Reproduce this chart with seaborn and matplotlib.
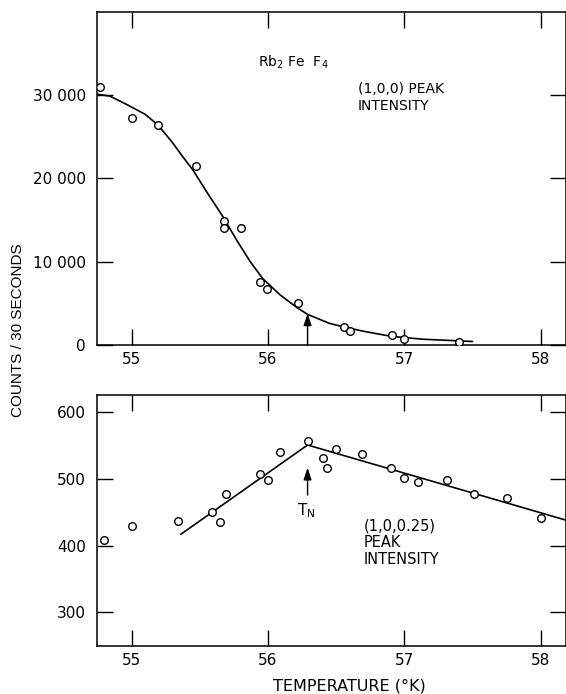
import numpy as np
import pandas as pd
import matplotlib
matplotlib.use("Agg")
import matplotlib.pyplot as plt
import seaborn as sns

# ---- data: (1,0,0) peak intensity (top panel) ----
top_T = [54.77, 55.00, 55.19, 55.47, 55.68, 55.68, 55.80, 55.94, 55.99, 56.22,
         56.56, 56.60, 56.91, 57.00, 57.40]
top_C = [31000, 27300, 26400, 21500, 14900, 14050, 14050, 7560, 6760, 5080,
         2120, 1680, 1160, 720, 400]

# smooth guide curve
curve_T = [54.755, 54.84, 54.975, 55.10, 55.195, 55.30, 55.38, 55.45, 55.55,
           55.67, 55.77, 55.87, 55.96, 56.09, 56.21, 56.29, 56.45, 56.56,
           56.70, 56.90, 57.13, 57.50]
curve_C = [30100, 29900, 28800, 27700, 26400, 24300, 22500, 21000, 18400,
           15400, 12600, 10000, 8000, 6000, 4520, 3680, 2600, 2150,
           1650, 1050, 700, 420]

# ---- data: (1,0,0.25) peak intensity (bottom panel) ----
bot_T = [54.80, 55.00, 55.34, 55.59, 55.65, 55.69, 55.94, 56.00, 56.09, 56.29,
         56.40, 56.43, 56.50, 56.69, 56.90, 57.00, 57.10, 57.31, 57.51, 57.75, 58.00]
bot_C = [408, 430, 437, 451, 436, 477, 507, 498, 541, 557,
         531, 517, 545, 538, 517, 501, 495, 498, 477, 471, 442]

line_T = [55.36, 56.29, 58.19]
line_C = [417, 551, 438]

TN = 56.29

x_ticks = [55, 56, 57, 58]
top_yticks = [0, 10000, 20000, 30000]
top_ylabels = ["0", "10 000", "20 000", "30 000"]
bot_yticks = [300, 400, 500, 600]

# ---- figure ----
sns.set_theme(style="ticks")
plt.rcParams["font.family"] = ["DejaVu Sans"]
plt.rcParams["axes.linewidth"] = 1.1
plt.rcParams["text.color"] = "black"
plt.rcParams["axes.labelcolor"] = "black"
plt.rcParams["xtick.color"] = "black"
plt.rcParams["ytick.color"] = "black"

W, H = 566, 694
fig = plt.figure(figsize=(W / 100, H / 100), dpi=100)
fig.patch.set_facecolor("white")

ax1 = fig.add_axes([97 / W, 1 - 345 / H, 469 / W, 333 / H])
ax2 = fig.add_axes([97 / W, 1 - 645.7 / H, 469 / W, 250.7 / H])

df_top = pd.DataFrame({"T": top_T, "C": top_C})
df_curve = pd.DataFrame({"T": curve_T, "C": curve_C})
df_bot = pd.DataFrame({"T": bot_T, "C": bot_C})
df_line = pd.DataFrame({"T": line_T, "C": line_C})

sns.lineplot(data=df_curve, x="T", y="C", ax=ax1, color="black", lw=1.2,
             sort=False, estimator=None)
sns.scatterplot(data=df_top, x="T", y="C", ax=ax1, s=30, facecolor="white",
                edgecolor="black", linewidth=1.0, zorder=3)

sns.lineplot(data=df_line, x="T", y="C", ax=ax2, color="black", lw=1.2,
             sort=False, estimator=None)
sns.scatterplot(data=df_bot, x="T", y="C", ax=ax2, s=30, facecolor="white",
                edgecolor="black", linewidth=1.0, zorder=3)

for ax in (ax1, ax2):
    ax.set_xlim(54.746, 58.185)
    ax.set_xticks(x_ticks)
    ax.set_xticklabels([str(t) for t in x_ticks])
    ax.tick_params(direction="in", length=11.5, width=1.0, top=True, right=True,
                   labelsize=11, pad=5, colors="black")
    ax.set_xlabel("")
    ax.set_ylabel("")
    for s in ax.spines.values():
        s.set_visible(True)
        s.set_color("black")

ax1.set_ylim(0, 40000)
ax1.set_yticks(top_yticks)
ax1.set_yticklabels(top_ylabels)
ax1.tick_params(axis="y", pad=8)

ax2.set_ylim(250, 626)
ax2.set_yticks(bot_yticks)
ax2.set_yticklabels([str(v) for v in bot_yticks])
ax2.tick_params(axis="y", pad=8)

# top panel annotations
ax1.annotate("", xy=(TN, 3800), xytext=(TN, 0),
             arrowprops=dict(arrowstyle="-|>,head_length=0.6,head_width=0.2",
                             color="black", lw=1.0, shrinkA=0, shrinkB=0))
ax1.text(55.93, 34000, r"Rb$_2$ Fe  F$_4$", fontsize=10, ha="left", va="center",
         color="black")
ax1.text(56.66, 29700, "(1,0,0) PEAK\nINTENSITY", fontsize=10, ha="left",
         va="center", linespacing=1.3, color="black")

# bottom panel annotations
ax2.annotate("", xy=(TN, 517), xytext=(TN, 476),
             arrowprops=dict(arrowstyle="-|>,head_length=0.6,head_width=0.2",
                             color="black", lw=1.0, shrinkA=0, shrinkB=0))
ax2.text(TN - 0.01, 452, r"T$_\mathrm{N}$", fontsize=11, ha="center", va="center",
         color="black")
ax2.text(56.70, 405, "(1,0,0.25)\nPEAK\nINTENSITY", fontsize=10.5, ha="left",
         va="center", linespacing=1.15, color="black")

fig.text(18 / W, 1 - 330 / H, "COUNTS / 30 SECONDS", rotation=90, ha="center",
         va="center", fontsize=11, family=["Liberation Sans"], color="black")
fig.text(349 / W, 1 - 686 / H, "TEMPERATURE (°K)", ha="center", va="center",
         fontsize=11.5, color="black")

fig.savefig("out.png", dpi=100, facecolor="white")
